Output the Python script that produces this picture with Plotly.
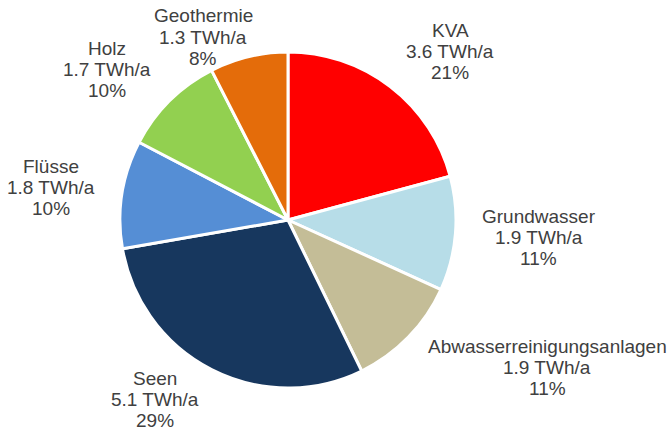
import math
import plotly.graph_objects as go

labels = ["KVA", "Grundwasser", "Abwasserreinigungsanlagen", "Seen", "Flüsse", "Holz", "Geothermie"]
values = [3.6, 1.9, 1.9, 5.1, 1.8, 1.7, 1.3]
percent_labels = ["21%", "11%", "11%", "29%", "10%", "10%", "8%"]
unit = "TWh/a"
colors = ["#FF0000", "#B7DDE8", "#C4BD97", "#17375E", "#558ED5", "#92D050", "#E46C0A"]

# ---- layout constants ----
W, H = 671, 432
CX, CY, R = 288, 220, 168          # pie centre / radius in pixels (from top-left)
RX, RY = 195, 182                  # label anchor radii
HALF_H = 30                        # half height of a 3-line label block
TOP_PAD = 7
BOTTOM_PAD = 33
LINE = 21
FONT = 19
FONT_FAMILY = "Liberation Sans, Arial, sans-serif"
TEXT_COLOR = "#404040"

# Arial / Liberation Sans advance widths (per 1000 em)
CHAR_W = {
    "A": 667, "K": 667, "V": 667, "G": 778, "T": 611, "W": 944, "S": 667, "F": 611, "H": 722,
    "a": 556, "b": 556, "d": 556, "e": 556, "g": 556, "h": 556, "i": 222, "l": 222, "m": 833,
    "n": 556, "o": 556, "r": 333, "s": 500, "t": 278, "u": 556, "w": 722, "ü": 556, "z": 500,
    ".": 278, " ": 278, "/": 278, "%": 889,
}


def text_w(s):
    return sum(CHAR_W.get(ch, 556) for ch in s) / 1000 * FONT


fig = go.Figure(go.Pie(
    labels=labels,
    values=values,
    sort=False,
    direction="clockwise",
    rotation=0,
    marker=dict(colors=colors, line=dict(color="white", width=3)),
    textinfo="none",
    hoverinfo="skip",
    showlegend=False,
    domain=dict(x=[(CX - R) / W, (CX + R) / W], y=[(H - CY - R) / H, (H - CY + R) / H]),
))

total = sum(values)
cum = 0.0
annotations = []
for lab, v, pct in zip(labels, values, percent_labels):
    theta = 2 * math.pi * (cum + v / 2) / total
    cum += v
    s, c = math.sin(theta), math.cos(theta)
    lines = [lab, f"{v:.1f} {unit}", pct]
    w = max(text_w(t) for t in lines)
    dx = RX * s + math.copysign(w / 2, s)
    dy = (RY + HALF_H) * c
    top_lim = CY - TOP_PAD - HALF_H          # block centre limits (y up, relative to pie centre)
    bot_lim = -(H - BOTTOM_PAD - CY)
    if dy > top_lim:
        k = top_lim / dy
        dx *= k
        dy = top_lim
    elif dy < bot_lim:
        dy = bot_lim
    px = CX + dx
    py = CY - dy
    for j, t in enumerate(lines):
        ly = py + (j - 1) * LINE
        annotations.append(dict(
            x=px / W, y=1 - ly / H, xref="paper", yref="paper",
            text=t, showarrow=False, xanchor="center", yanchor="middle",
            font=dict(family=FONT_FAMILY, size=FONT, color=TEXT_COLOR),
        ))

fig.update_layout(
    width=W, height=H,
    margin=dict(l=0, r=0, t=0, b=0),
    paper_bgcolor="white",
    plot_bgcolor="white",
    showlegend=False,
    annotations=annotations,
)

fig.write_html("out.html", config={"displayModeBar": False},
               post_script="document.body.style.margin='0';")
